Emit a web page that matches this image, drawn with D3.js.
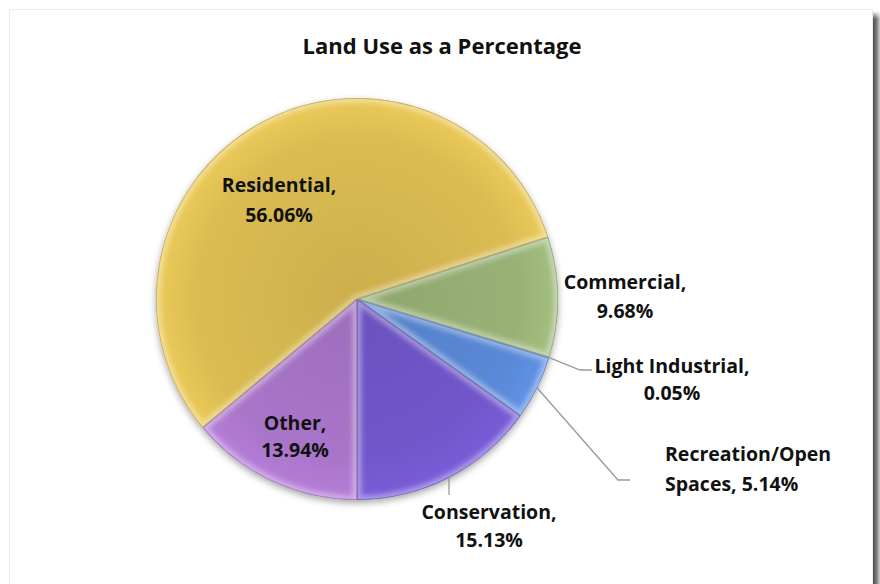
<!DOCTYPE html>
<html>
<head>
<meta charset="utf-8">
<script src="https://cdn.jsdelivr.net/npm/d3@7/dist/d3.min.js"></script>
<style>
  html, body { margin: 0; padding: 0; background: #ffffff; }
  svg { display: block; }
  text { font-family: "Open Sans", Lato, "Noto Sans", sans-serif; font-weight: 700; fill: #111; }
</style>
</head>
<body>
<svg id="chart" width="880" height="584"></svg>
<script>
// Land use shares, in percent
const categories = ["Residential", "Commercial", "Light Industrial", "Recreation/Open Spaces", "Conservation", "Other"];
const shares = [56.06, 9.68, 0.05, 5.14, 15.13, 13.94];
const sliceColors = ["#dbbc52", "#98b276", "#6b86c4", "#5988d6", "#7157cb", "#a975c9"];
const title = "Land Use as a Percentage";

// Where each data label sits (centre x / first baseline / line gap) and how its leader runs
const labelLayout = {
  "Residential":            { x: 279, y: 192,   gap: 29.5, words: 1, anchor: "middle" },
  "Commercial":             { x: 625, y: 289,   gap: 29,   words: 1, anchor: "middle" },
  "Light Industrial":       { x: 672, y: 373,   gap: 27,   words: 2, anchor: "middle", leader: [[580, 370], [592, 370]] },
  "Recreation/Open Spaces": { x: 665, y: 461,   gap: 29.5, words: 1, anchor: "start",  leader: [[618, 480], [630, 480]] },
  "Conservation":           { x: 489, y: 518.5, gap: 28.5, words: 1, anchor: "middle", leader: [[449, 495]] },
  "Other":                  { x: 295, y: 430,   gap: 26.5, words: 1, anchor: "middle" }
};

const svg = d3.select("#chart");
const W = 880, H = 584;
const cx = 357, cy = 299, R = 201;

const defs = svg.append("defs");

// Card frame with a shadow down its right side
const sh = defs.append("linearGradient").attr("id", "rightShadow").attr("x1", 0).attr("x2", 1).attr("y1", 0).attr("y2", 0);
sh.append("stop").attr("offset", 0).attr("stop-color", "#4e4e4e");
sh.append("stop").attr("offset", 0.5).attr("stop-color", "#7a7a7a");
sh.append("stop").attr("offset", 1).attr("stop-color", "#d0d0d0");
const shV = defs.append("linearGradient").attr("id", "shadowFade").attr("x1", 0).attr("x2", 0).attr("y1", 0).attr("y2", 1);
shV.append("stop").attr("offset", 0).attr("stop-color", "#fff").attr("stop-opacity", 1);
shV.append("stop").attr("offset", 1).attr("stop-color", "#fff").attr("stop-opacity", 0);

svg.append("rect").attr("x", 873).attr("y", 11).attr("width", 7).attr("height", H - 11).attr("fill", "url(#rightShadow)");
svg.append("rect").attr("x", 873).attr("y", 11).attr("width", 7).attr("height", 8).attr("fill", "url(#shadowFade)");
svg.append("rect").attr("x", 9.5).attr("y", 9.5).attr("width", 863).attr("height", H)
  .attr("fill", "#ffffff").attr("stroke", "#ececec").attr("stroke-width", 1);

// Title
svg.append("text").attr("x", 442).attr("y", 54).attr("text-anchor", "middle")
  .style("font-size", "22px").text(title);

// Pie geometry: rotate so the Conservation slice closes at six o'clock
const total = d3.sum(shares);
const beforeOther = d3.sum(shares.slice(0, 5));
const start = Math.PI - 2 * Math.PI * beforeOther / total;
const pie = d3.pie().sort(null).value(d => d.value).startAngle(start).endAngle(start + 2 * Math.PI);
const data = categories.map((c, i) => ({ name: c, value: shares[i], color: sliceColors[i] }));
const arcs = pie(data);
const arc = d3.arc().innerRadius(0).outerRadius(R);
const edgeArc = d3.arc().innerRadius(R).outerRadius(R);

// Filters: soft drop shadow under the pie, blur for the bevel glow
const ds = defs.append("filter").attr("id", "pieShadow").attr("x", "-20%").attr("y", "-20%").attr("width", "140%").attr("height", "140%");
ds.append("feDropShadow").attr("dx", 0).attr("dy", 3).attr("stdDeviation", 3.5).attr("flood-color", "#000").attr("flood-opacity", 0.35);
const bl = defs.append("filter").attr("id", "soft").attr("x", "-10%").attr("y", "-10%").attr("width", "120%").attr("height", "120%");
bl.append("feGaussianBlur").attr("stdDeviation", 2.5);

const g = svg.append("g").attr("transform", `translate(${cx},${cy})`);
const shadowLayer = g.append("g").attr("filter", "url(#pieShadow)");
shadowLayer.selectAll("path").data(arcs).join("path")
  .attr("d", arc).attr("fill", d => d.data.color);

arcs.forEach((d, i) => {
  defs.append("clipPath").attr("id", "clip" + i).append("path").attr("d", arc(d));
  // radial shading: slightly darker towards the centre
  const rg = defs.append("radialGradient").attr("id", "rg" + i)
    .attr("gradientUnits", "userSpaceOnUse").attr("cx", 0).attr("cy", 0).attr("r", R);
  const base = d3.color(d.data.color);
  rg.append("stop").attr("offset", 0).attr("stop-color", base.darker(0.2));
  rg.append("stop").attr("offset", 0.8).attr("stop-color", base);
  rg.append("stop").attr("offset", 1).attr("stop-color", base.brighter(0.2));
});

const slices = g.selectAll("g.slice").data(arcs).join("g").attr("class", "slice")
  .attr("clip-path", (d, i) => `url(#clip${i})`);
slices.append("path").attr("d", arc).attr("fill", (d, i) => `url(#rg${i})`);
// bevel highlight along each slice edge
slices.append("path").attr("d", arc).attr("fill", "none")
  .attr("stroke", "#ffffff").attr("stroke-opacity", 0.38).attr("stroke-width", 9)
  .attr("filter", "url(#soft)");
// dark seam
slices.append("path").attr("d", arc).attr("fill", "none")
  .attr("stroke", d => d3.color(d.data.color).darker(0.9)).attr("stroke-opacity", 0.55).attr("stroke-width", 1.6);

// Leader lines from slice edge midpoints
arcs.forEach(d => {
  const lay = labelLayout[d.data.name];
  if (!lay.leader) return;
  const p = edgeArc.centroid(d);
  const pts = [[cx + p[0], cy + p[1]], ...lay.leader];
  svg.append("path").attr("d", d3.line()(pts))
    .attr("fill", "none").attr("stroke", "#9a9a9a").attr("stroke-width", 1.3);
});

// Data labels: "Name, value%" wrapped over two lines
arcs.forEach(d => {
  const lay = labelLayout[d.data.name];
  const words = `${d.data.name}, ${d.data.value.toFixed(2)}%`.split(" ");
  const lines = [words.slice(0, lay.words).join(" "), words.slice(lay.words).join(" ")];
  const t = svg.append("text").attr("text-anchor", lay.anchor).style("font-size", "19.5px");
  lines.forEach((ln, k) => {
    t.append("tspan").attr("x", lay.x).attr("y", lay.y + k * lay.gap).text(ln);
  });
});
</script>
</body>
</html>
